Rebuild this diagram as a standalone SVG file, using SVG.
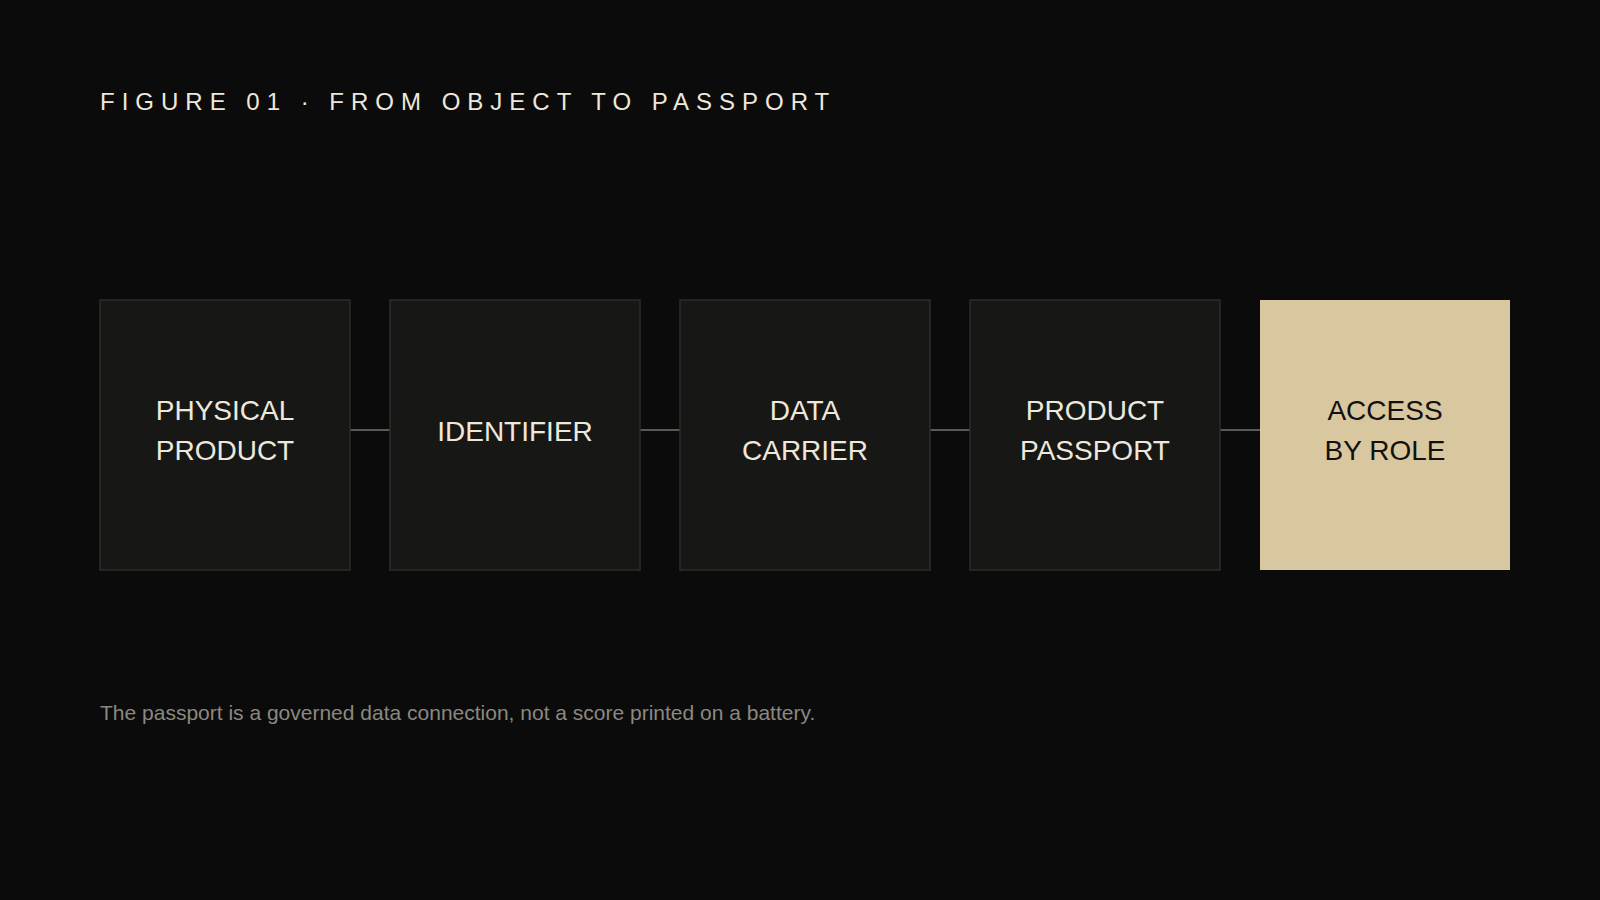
<svg xmlns="http://www.w3.org/2000/svg" width="1600" height="900" viewBox="0 0 1600 900">
  <style>
    .title { font-family: "Liberation Sans", Arial, sans-serif; font-size: 24px; letter-spacing: 7px; fill: #eee8dc; }
    .box { fill: #171715; stroke: #2d2d2b; stroke-width: 1.5; }
    .box-accent { fill: #d9c7a0; }
    .label { font-family: "Liberation Sans", Arial, sans-serif; font-size: 28px; fill: #eee8dc; text-anchor: middle; }
    .label-dark { fill: #121110; }
    .conn { stroke: #77746d; stroke-width: 1.5; fill: none; }
    .foot { font-family: "Liberation Sans", Arial, sans-serif; font-size: 21px; fill: #8b8880; }
  </style>
  <rect width="1600" height="900" fill="#0b0b0b"/>
  <text class="title" x="100" y="110">FIGURE 01 · FROM OBJECT TO PASSPORT</text>
  <g id="connectors">
    <line class="conn" x1="350" y1="430" x2="390" y2="430"/>
    <line class="conn" x1="640" y1="430" x2="680" y2="430"/>
    <line class="conn" x1="930" y1="430" x2="970" y2="430"/>
    <line class="conn" x1="1220" y1="430" x2="1260" y2="430"/>
  </g>
  <g id="node-physical-product">
    <rect class="box" x="100" y="300" width="250" height="270"/>
    <text class="label" x="225" y="419.5">PHYSICAL</text>
    <text class="label" x="225" y="460">PRODUCT</text>
  </g>
  <g id="node-identifier">
    <rect class="box" x="390" y="300" width="250" height="270"/>
    <text class="label" x="515" y="441">IDENTIFIER</text>
  </g>
  <g id="node-data-carrier">
    <rect class="box" x="680" y="300" width="250" height="270"/>
    <text class="label" x="805" y="419.5">DATA</text>
    <text class="label" x="805" y="460">CARRIER</text>
  </g>
  <g id="node-product-passport">
    <rect class="box" x="970" y="300" width="250" height="270"/>
    <text class="label" x="1095" y="419.5">PRODUCT</text>
    <text class="label" x="1095" y="460">PASSPORT</text>
  </g>
  <g id="node-access-by-role">
    <rect class="box-accent" x="1260" y="300" width="250" height="270"/>
    <text class="label label-dark" x="1385" y="419.5">ACCESS</text>
    <text class="label label-dark" x="1385" y="460">BY ROLE</text>
  </g>
  <text class="foot" x="100" y="720">The passport is a governed data connection, not a score printed on a battery.</text>
</svg>
